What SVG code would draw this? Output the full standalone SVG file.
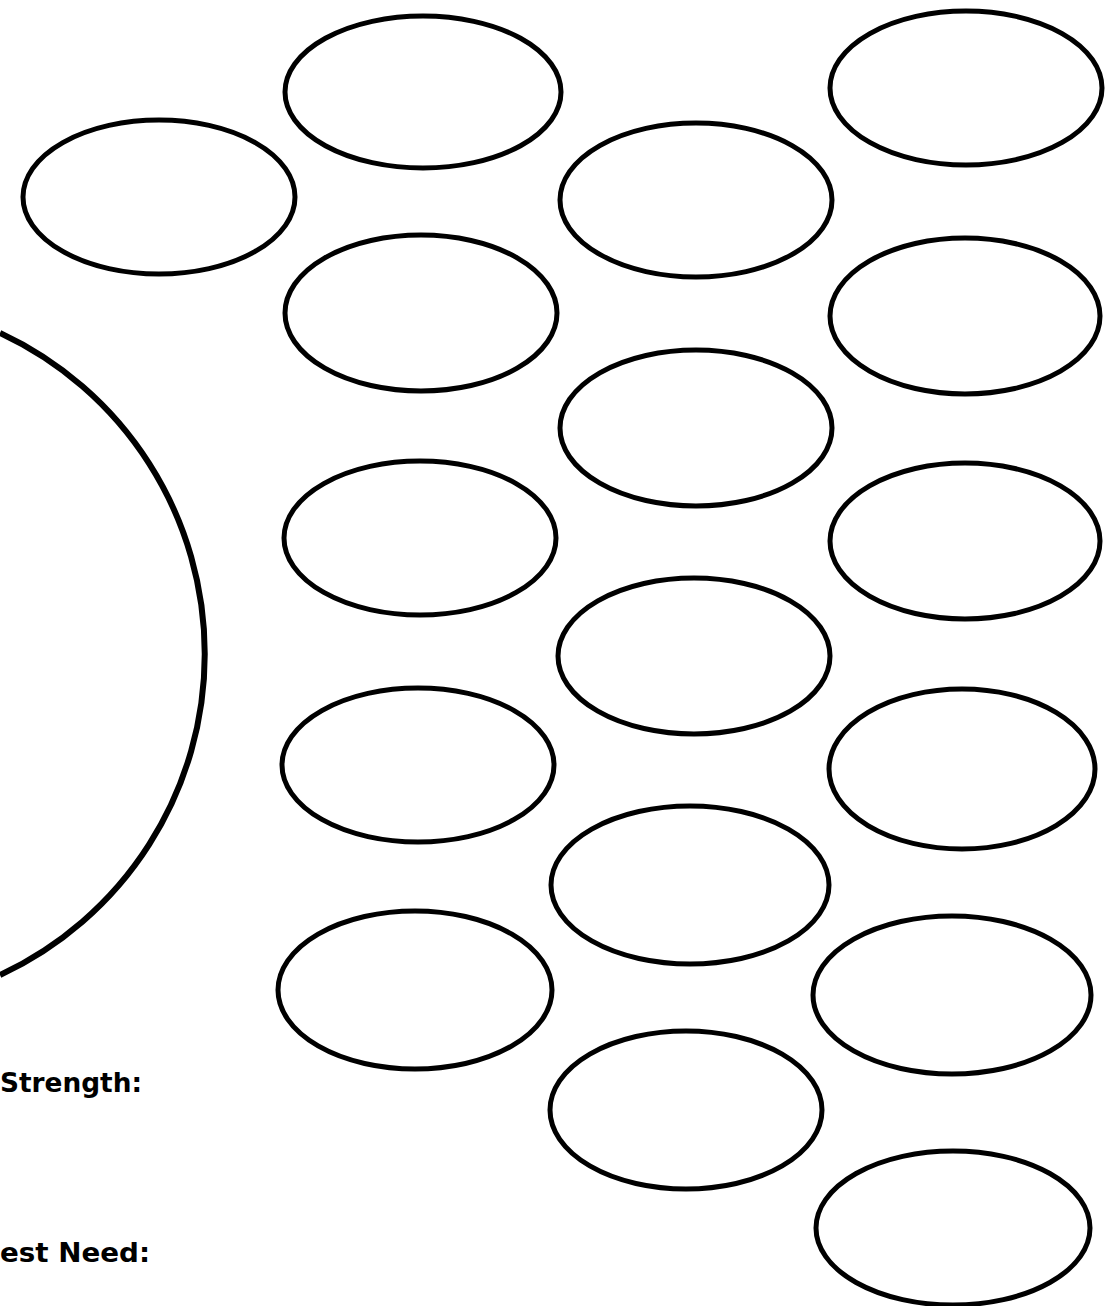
<svg xmlns="http://www.w3.org/2000/svg" width="1117" height="1306" viewBox="0 0 1117 1306">
<style>
.ov{fill:none;stroke:#000;stroke-width:5}
.big{fill:none;stroke:#000;stroke-width:6}
.lbl{font-family:"DejaVu Sans","Liberation Sans",sans-serif;font-size:27px;font-weight:bold;fill:#000}
</style>
<rect width="1117" height="1306" fill="#fff"/>
<g id="big-circle"><path class="big" d="M0,333 A354,354 0 0 1 0,975"/></g>
<g id="e1"><ellipse class="ov" cx="159" cy="197" rx="136" ry="77"/></g>
<g id="e2"><ellipse class="ov" cx="423" cy="92" rx="138" ry="76"/></g>
<g id="e3"><ellipse class="ov" cx="966" cy="88" rx="136" ry="77"/></g>
<g id="e4"><ellipse class="ov" cx="696" cy="200" rx="136" ry="77"/></g>
<g id="e5"><ellipse class="ov" cx="421" cy="313" rx="136" ry="78"/></g>
<g id="e6"><ellipse class="ov" cx="965" cy="316" rx="135" ry="78"/></g>
<g id="e7"><ellipse class="ov" cx="696" cy="428" rx="136" ry="78"/></g>
<g id="e8"><ellipse class="ov" cx="420" cy="538" rx="136" ry="77"/></g>
<g id="e9"><ellipse class="ov" cx="965" cy="541" rx="135" ry="78"/></g>
<g id="e10"><ellipse class="ov" cx="694" cy="656" rx="136" ry="78"/></g>
<g id="e11"><ellipse class="ov" cx="418" cy="765" rx="136" ry="77"/></g>
<g id="e12"><ellipse class="ov" cx="962" cy="769" rx="133" ry="80"/></g>
<g id="e13"><ellipse class="ov" cx="690" cy="885" rx="139" ry="79"/></g>
<g id="e14"><ellipse class="ov" cx="415" cy="990" rx="137" ry="79"/></g>
<g id="e15"><ellipse class="ov" cx="952" cy="995" rx="139" ry="79"/></g>
<g id="e16"><ellipse class="ov" cx="686" cy="1110" rx="136" ry="79"/></g>
<g id="e17"><ellipse class="ov" cx="953" cy="1228" rx="137" ry="77"/></g>
<g id="connectors"></g>
<text class="lbl" x="0" y="1092" textLength="142" lengthAdjust="spacingAndGlyphs">Strength:</text>
<text class="lbl" x="0" y="1262" textLength="150" lengthAdjust="spacingAndGlyphs">est Need:</text>
</svg>
